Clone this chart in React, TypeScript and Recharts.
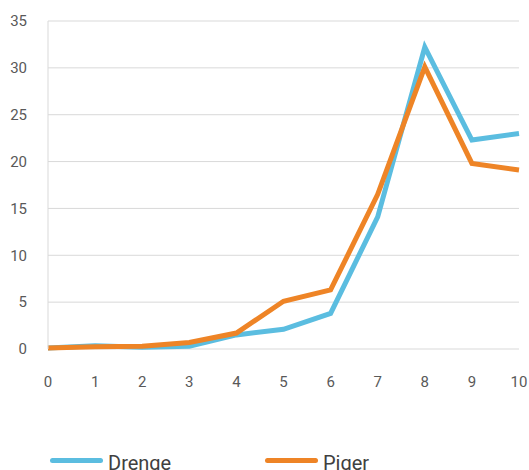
import { LineChart, Line, XAxis, YAxis, CartesianGrid, Legend } from 'recharts'

const ages = [0, 1, 2, 3, 4, 5, 6, 7, 8, 9, 10]
const drenge = [0.1, 0.35, 0.2, 0.3, 1.5, 2.1, 3.8, 14.1, 32.2, 22.3, 23.0]
const piger = [0.1, 0.25, 0.3, 0.7, 1.7, 5.1, 6.3, 16.5, 30.1, 19.8, 19.1]
const yTicks = [0, 5, 10, 15, 20, 25, 30, 35]

const series = [
  { key: 'drenge', name: 'Drenge', color: '#5bbde0' },
  { key: 'piger', name: 'Piger', color: '#ee8426' },
]

const data = ages.map((age, i) => ({ age, drenge: drenge[i], piger: piger[i] }))

const font = 'Roboto, "Liberation Sans", sans-serif'

function LegendBox() {
  return (
    <div style={{ position: 'relative', height: 30, fontFamily: font }}>
      {series.map((s, i) => (
        <div
          key={s.key}
          style={{ position: 'absolute', left: i * 215, top: 0, display: 'flex', alignItems: 'center' }}
        >
          <div style={{ width: 53, height: 5, borderRadius: 3, background: s.color }} />
          <span style={{ marginLeft: 5, marginTop: 6, fontSize: 20, color: '#404040' }}>{s.name}</span>
        </div>
      ))}
    </div>
  )
}

export default function App() {
  return (
    <div style={{ position: 'absolute', left: 0, top: 0, background: '#fff' }}>
      <LineChart width={529} height={470} data={data} margin={{ top: 21, right: 10, left: 0, bottom: 0 }}>
        <CartesianGrid vertical={false} stroke="#d9d9d9" />
        <XAxis
          dataKey="age"
          type="number"
          domain={[0, 10]}
          ticks={ages}
          axisLine={false}
          tickLine={false}
          tickMargin={21}
          height={91}
          tick={{ fill: '#595959', fontSize: 15, fontFamily: font }}
        />
        <YAxis
          domain={[0, 35]}
          ticks={yTicks}
          width={48}
          axisLine={{ stroke: '#d9d9d9' }}
          tickLine={false}
          tickMargin={15}
          tick={{ fill: '#595959', fontSize: 15, fontFamily: font }}
        />
        <Legend content={() => <LegendBox />} wrapperStyle={{ left: 50, top: 445, width: 470 }} />
        {series.map((s) => (
          <Line
            key={s.key}
            dataKey={s.key}
            name={s.name}
            stroke={s.color}
            strokeWidth={5}
            dot={false}
            isAnimationActive={false}
          />
        ))}
      </LineChart>
    </div>
  )
}
